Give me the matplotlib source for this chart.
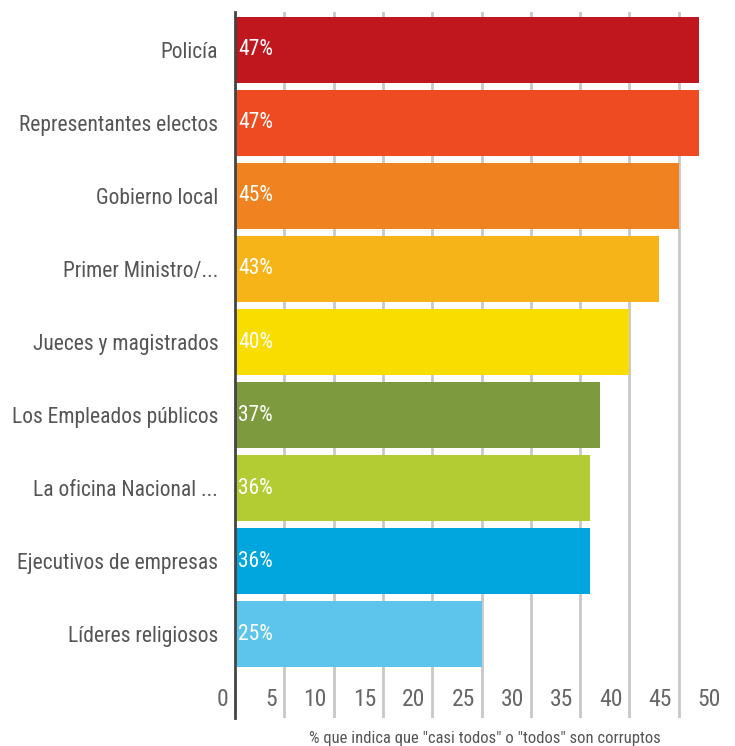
import matplotlib
matplotlib.use('Agg')
import matplotlib.pyplot as plt
from matplotlib import font_manager

categories = ['Policía', 'Representantes electos', 'Gobierno local', 'Primer Ministro/...',
              'Jueces y magistrados', 'Los Empleados públicos', 'La oficina Nacional ...',
              'Ejecutivos de empresas', 'Líderes religiosos']
values = [47, 47, 45, 43, 40, 37, 36, 36, 25]
bar_colors = ['#c0171f', '#ee4b23', '#f0821f', '#f7b418', '#f9dc00',
              '#7d9a3e', '#b4cc34', '#00a6dd', '#5dc5ec']
x_ticks = [0, 5, 10, 15, 20, 25, 30, 35, 40, 45, 50]
x_title = '% que indica que "casi todos" o "todos" son corruptos'

names = {f.name for f in font_manager.fontManager.ttflist}
pick = [n for n in ['Roboto Condensed', 'Liberation Sans Narrow', 'Roboto'] if n in names]
plt.rcParams['font.family'] = pick[:1] + ['DejaVu Sans']

W, H = 735, 746
fig = plt.figure(figsize=(W / 100, H / 100), dpi=100)
# axes box in pixels: left 235, right 735, top 12, bottom 718
ax = fig.add_axes([235 / W, 1 - 718 / H, 500 / W, 706 / H])

ypos = list(range(len(categories)))
ax.barh(ypos, values, height=0.904, color=bar_colors, zorder=2)

# vertical grid lines behind the bars (none drawn at 50)
for v in x_ticks[1:-1]:
    ax.axvline(v, color='#c8c8c8', lw=2, zorder=1)

ax.set_xlim(0, 50.7)
ax.set_ylim(8 + 1.15, -0.52)

ax.set_yticks(ypos)
ax.set_yticklabels(categories, fontsize=15.5, color='#555555')
ax.tick_params(axis='y', length=0, pad=12)
ax.set_xticks([])

for s in ['top', 'right', 'bottom']:
    ax.spines[s].set_visible(False)
ax.spines['left'].set_color('#444444')
ax.spines['left'].set_linewidth(2)
ax.spines['left'].set_zorder(3)

# value labels inside the bars
for y, v in zip(ypos, values):
    ax.text(0.35, y, f'{v}%', color='white', fontsize=15.5, va='center', ha='left', zorder=4)

# tick numbers sit just left of each grid line
for v in x_ticks:
    ax.text(v - 0.7, 8.89, str(v), color='#666666', fontsize=17, va='center', ha='right')

fig.text(485 / W, 1 - 739 / H, x_title, ha='center', va='center',
         fontsize=12, color='#555555')

fig.savefig('out.png', dpi=100)
